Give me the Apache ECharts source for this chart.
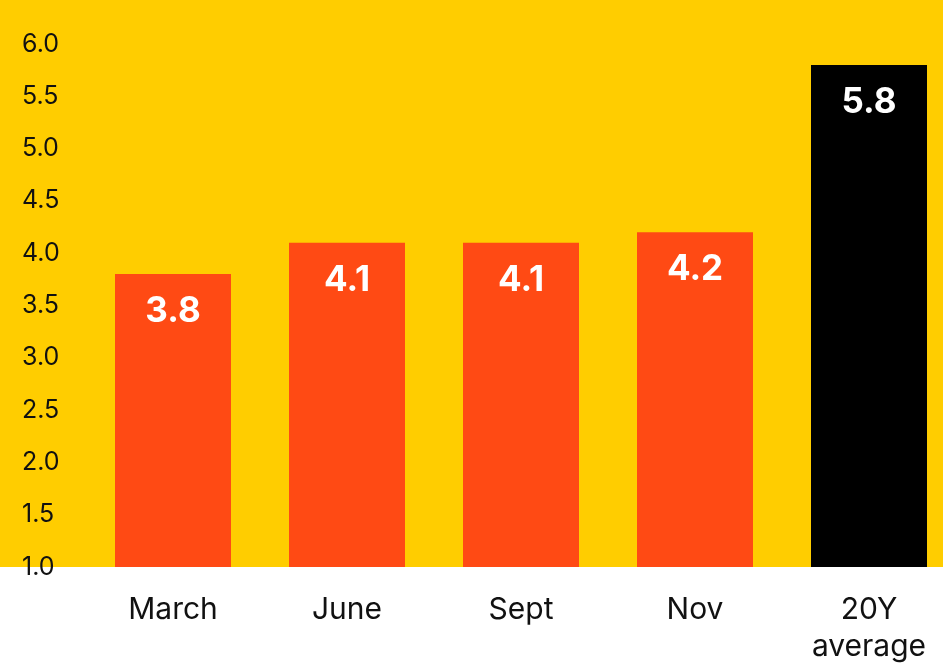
<!DOCTYPE html>
<html>
<head>
<meta charset="utf-8">
<script src="https://cdn.jsdelivr.net/npm/echarts@6/dist/echarts.min.js"></script>
<style>
  html, body { margin: 0; padding: 0; background: #ffffff; }
  #chart { width: 943px; height: 663px; }
</style>
</head>
<body>
<div id="chart"></div>
<script>
// Data
const categories = ["March", "June", "Sept", "Nov", "20Y\naverage"];
const values = [3.8, 4.1, 4.1, 4.2, 5.8];
const barColors = ["#FF4A14", "#FF4A14", "#FF4A14", "#FF4A14", "#000000"];

const chart = echarts.init(document.getElementById("chart"));

const fontFamily = "Inter, 'Open Sans', sans-serif";

const option = {
  animation: false,
  backgroundColor: "#ffffff",
  // yellow panel behind the bars, down to the 1.0 baseline
  graphic: [
    {
      type: "rect",
      z: -10,
      shape: { x: 0, y: 0, width: 943, height: 567 },
      style: { fill: "#FFCD00" },
      silent: true,
    },
  ],
  grid: {
    left: 86,
    top: 44,
    right: -13,
    bottom: 96,
    outerBoundsMode: "none",
    containLabel: false,
  },
  xAxis: {
    type: "category",
    data: categories,
    axisLine: { show: false },
    axisTick: { show: false },
    axisLabel: {
      color: "#111111",
      fontSize: 30,
      fontFamily: fontFamily,
      lineHeight: 37,
      margin: 24,
      interval: 0,
    },
  },
  yAxis: {
    type: "value",
    min: 1,
    max: 6,
    interval: 0.5,
    axisLine: { show: false },
    axisTick: { show: false },
    splitLine: { show: false },
    axisLabel: {
      color: "#111111",
      fontSize: 25,
      fontFamily: fontFamily,
      align: "left",
      margin: 64,
      formatter: (v) => v.toFixed(1),
    },
  },
  series: [
    {
      type: "bar",
      data: values.map((v, i) => ({
        value: v,
        itemStyle: { color: barColors[i] },
      })),
      barWidth: 116,
      label: {
        show: true,
        position: "insideTop",
        distance: 20,
        color: "#ffffff",
        fontSize: 35,
        fontWeight: "bold",
        fontFamily: fontFamily,
        formatter: (p) => p.value.toFixed(1),
      },
    },
  ],
};

chart.setOption(option);
</script>
</body>
</html>
